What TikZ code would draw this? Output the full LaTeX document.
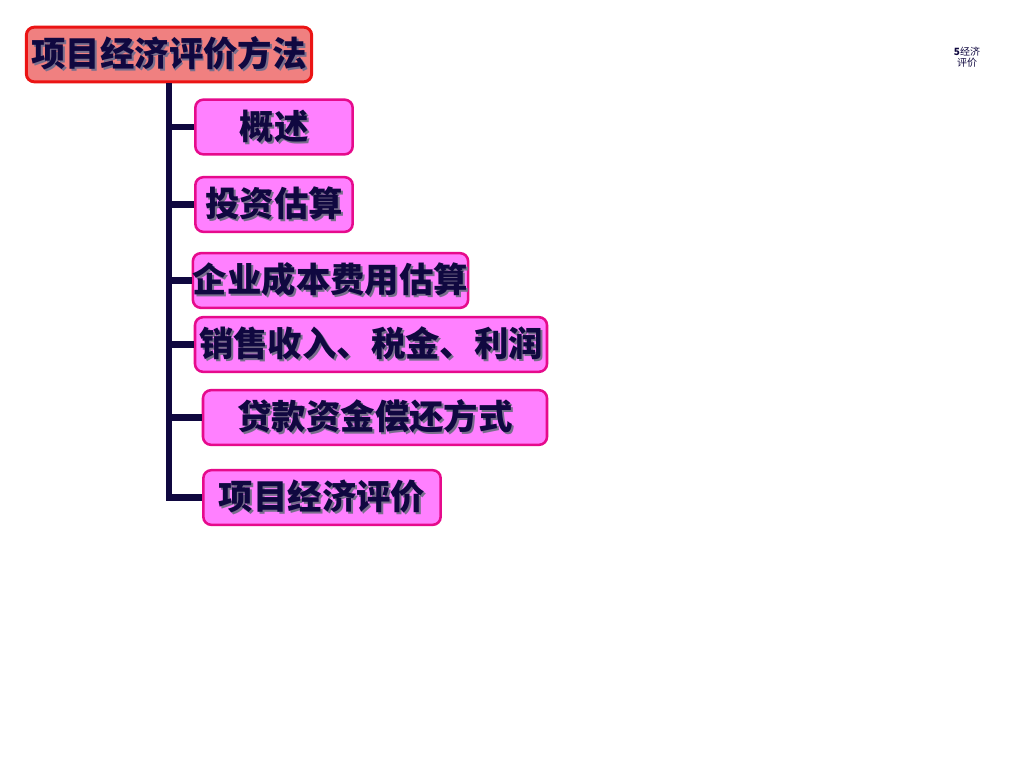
\documentclass[tikz,border=0pt]{standalone}
\usepackage{fontspec}
\usepackage{xcolor}
\newfontfamily\cjk{Noto Sans CJK SC}
\definecolor{navy}{RGB}{16,8,64}
\definecolor{rootfill}{RGB}{240,128,128}
\definecolor{rootline}{RGB}{235,20,20}
\definecolor{itemfill}{RGB}{255,128,255}
\definecolor{itemline}{RGB}{230,10,140}
\definecolor{shade}{RGB}{120,110,140}
% text with a gray drop shadow
\newcommand{\shtext}[1]{\makebox[0pt][l]{\kern1.5pt\raisebox{-1.5pt}{\textcolor{shade}{#1}}}\textcolor{navy}{#1}}
\tikzset{
  rootbox/.style={draw=rootline,fill=rootfill,line width=2.2pt,rounded corners=6pt,
    minimum height=41pt,inner sep=0pt,font=\cjk\bfseries\fontsize{25.8}{26}\selectfont},
  itembox/.style={draw=itemline,fill=itemfill,line width=1.9pt,rounded corners=6pt,
    minimum height=41pt,inner sep=0pt,font=\cjk\bfseries\fontsize{25.8}{26}\selectfont},
  trunkline/.style={navy,line width=5.2pt}
}
\begin{document}
\begin{tikzpicture}[x=0.75pt,y=-0.75pt]
  \useasboundingbox[fill=white] (0,0) rectangle (1024,768);
  % heading and topics
  \node[rootbox,minimum width=214pt] (root) at (169,54.5) {\shtext{项目经济评价方法}};
  \node[itembox,minimum width=118pt] (gs) at (274,127) {\shtext{概述}};
  \node[itembox,minimum width=118pt] (tz) at (274,204.5) {\shtext{投资估算}};
  \node[itembox,minimum width=203pt] (cb) at (330.5,280.5) {\shtext{企业成本费用估算}};
  \node[itembox,minimum width=264pt] (xs) at (371,344.5) {\shtext{销售收入、税金、利润}};
  \node[itembox,minimum width=258pt] (dk) at (375,417.5) {\shtext{贷款资金偿还方式}};
  \node[itembox,minimum width=178pt] (xm) at (322,497.5) {\shtext{项目经济评价}};
  % tree lines
  \draw[trunkline] (root.south) |- (xm.west);
  \foreach \n in {gs,tz,cb,xs,dk}
    \draw[trunkline] (root.south |- \n.west) -- (\n.west);
  % page mark
  \node[navy,font=\cjk\fontsize{7.5}{8.5}\selectfont,align=center] (mark) at (967,57) {\textbf{5}经济\\评价};
\end{tikzpicture}
\end{document}
